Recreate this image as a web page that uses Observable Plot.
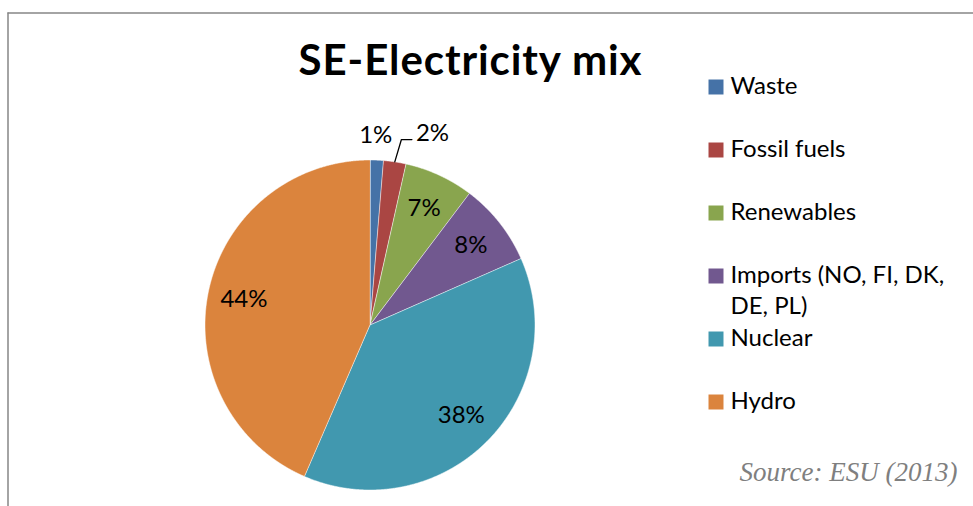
<!DOCTYPE html>
<html>
<head>
<meta charset="utf-8">
<script src="https://cdn.jsdelivr.net/npm/d3@7"></script>
<script src="https://cdn.jsdelivr.net/npm/@observablehq/plot@0.6"></script>
<style>
  html, body { margin: 0; padding: 0; background: #fff; }
</style>
</head>
<body>
<div id="chart"></div>
<script>
// ---- data ----
const categories = ["Waste", "Fossil fuels", "Renewables", "Imports (NO, FI, DK, DE, PL)", "Nuclear", "Hydro"];
const legendLabels = ["Waste", "Fossil fuels", "Renewables", "Imports (NO, FI, DK,\nDE, PL)", "Nuclear", "Hydro"];
const shares = [1.3, 2.2, 6.8, 8.1, 38.1, 43.5];
const colors = ["#4572A7", "#AA4643", "#89A54E", "#71588F", "#4198AF", "#DB843D"];
const titleText = "SE-Electricity mix";
const sourceText = "Source: ESU (2013)";

// ---- layout (pixel space mapped through identity-like scales) ----
const W = 973, H = 506;
const cx = 369.5, cy = 324.5, R = 165;

const arcs = d3.pie().sort(null).value(d => d)(shares);
const pt = (a, r) => ({x: cx + r * Math.sin(a), y: cy - r * Math.cos(a)});

const slicePts = [];
arcs.forEach((a, i) => {
  const name = categories[i];
  slicePts.push({name, ...pt(0, 0)});
  const n = Math.max(2, Math.ceil((a.endAngle - a.startAngle) / (Math.PI / 720)));
  for (let k = 0; k <= n; k++) {
    const ang = a.startAngle + (a.endAngle - a.startAngle) * k / n;
    slicePts.push({name, ...pt(ang, R)});
  }
});

// labels
const centerLabels = [];
const startLabels = [];
const leaders = [];
let smallCount = 0;
arcs.forEach((a, i) => {
  const mid = (a.startAngle + a.endAngle) / 2;
  const text = Math.round(shares[i]) + "%";
  if (shares[i] >= 5) {
    centerLabels.push({text, ...pt(mid, R * 0.78)});
  } else if (smallCount++ === 0) {
    const p = pt(mid, R * 1.15);
    centerLabels.push({text, x: p.x - 2, y: p.y});
  } else {
    const p0 = pt(mid, R);
    const p1 = pt(mid + 0.017, R * 1.14);
    const p2 = {x: p1.x + 10.5, y: p1.y};
    leaders.push({id: i, ...p0}, {id: i, ...p1}, {id: i, ...p2});
    startLabels.push({text, x: p2.x + 4, y: p2.y - 6.5});
  }
});

// legend
const legend = categories.map((c, i) => ({name: c, label: legendLabels[i], i}));
const legX = 715.5, legY0 = 86.5, legStep = 63;

const chart = Plot.plot({
  width: W,
  height: H,
  margin: 0,
  x: {domain: [0, W], range: [0, W], axis: null},
  y: {domain: [0, H], range: [0, H], axis: null},
  color: {domain: categories, range: colors},
  style: {fontFamily: "Lato, 'Open Sans', sans-serif", background: "#fff", overflow: "visible"},
  marks: [
    // chart border
    Plot.ruleY([12.5], {x1: 7.5, x2: W, stroke: "#868686", strokeWidth: 1.5}),
    Plot.ruleX([7.5], {y1: 12.5, y2: H, stroke: "#868686", strokeWidth: 1.5}),
    // pie slices
    Plot.line(slicePts, {x: "x", y: "y", z: "name", fill: "name", stroke: "#ffffff", strokeWidth: 0.7, strokeOpacity: 0.7, curve: "linear-closed"}),
    // leader line
    Plot.line(leaders, {x: "x", y: "y", z: "id", stroke: "#000", strokeWidth: 1.3}),
    // data labels
    Plot.text(centerLabels, {x: "x", y: "y", text: "text", textAnchor: "middle", fontSize: 24, fill: "#000"}),
    Plot.text(startLabels, {x: "x", y: "y", text: "text", textAnchor: "start", fontSize: 24, fill: "#000"}),
    // title
    Plot.text([titleText], {x: 470, y: 45, text: d => d, lineAnchor: "top", fontSize: 42, fontWeight: "bold", fill: "#000"}),
    // legend
    Plot.dot(legend, {x: legX, y: d => legY0 + d.i * legStep, fill: "name", symbol: "square", r: 8.46, stroke: "none"}),
    Plot.text(legend, {x: legX + 14.5, y: d => legY0 + d.i * legStep - 15, text: "label", textAnchor: "start", lineAnchor: "top", lineHeight: 1.29, fontSize: 24, fill: "#000"}),
    // source
    Plot.text([sourceText], {x: 957, y: 480, text: d => d, textAnchor: "end", lineAnchor: "bottom", fontFamily: "'Liberation Serif', 'DejaVu Serif', serif", fontStyle: "italic", fontSize: 27, fill: "#7f7f7f"})
  ]
});
// slightly widen title tracking to mimic the original face
chart.querySelectorAll("text").forEach(t => {
  if (t.textContent === titleText) t.style.letterSpacing = "0.9px";
});
document.getElementById("chart").appendChild(chart);
</script>
</body>
</html>
